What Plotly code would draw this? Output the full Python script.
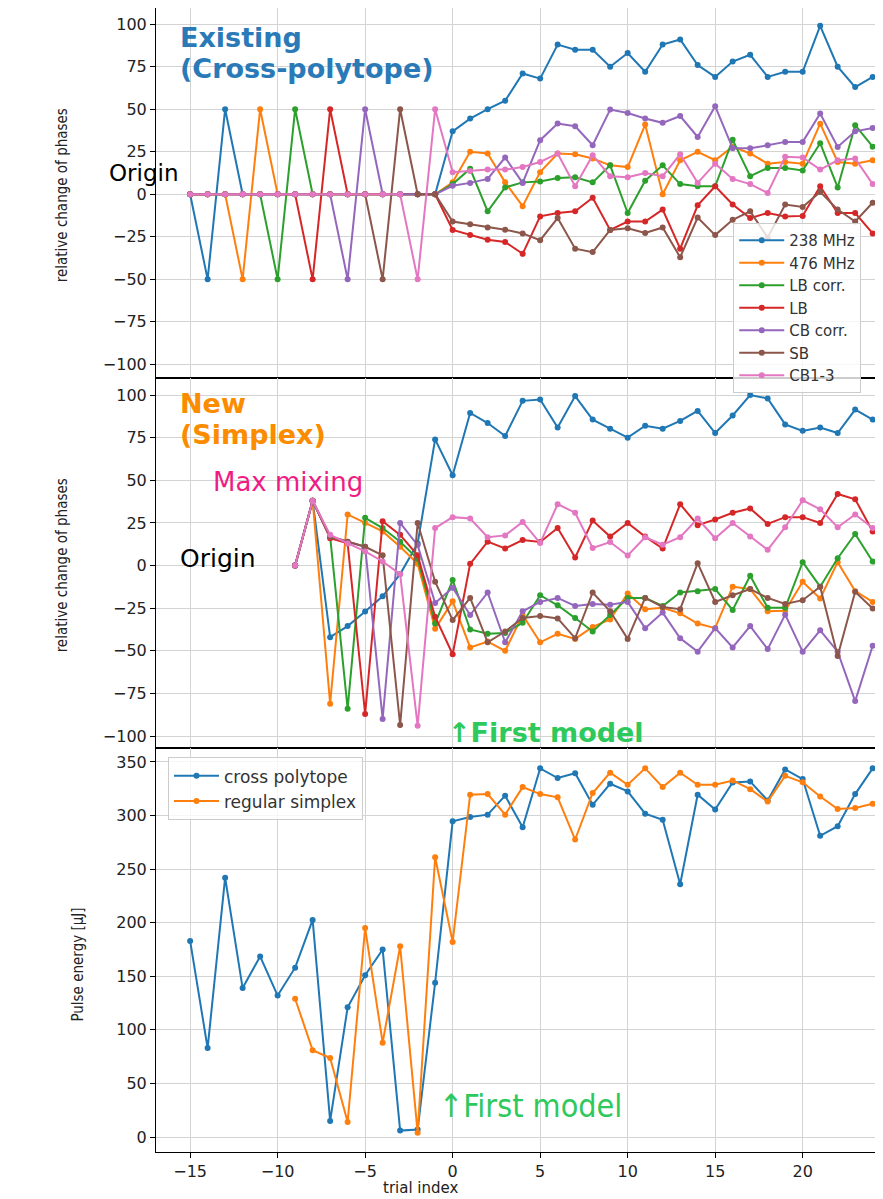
import plotly.graph_objects as go
from plotly.subplots import make_subplots

colors = ['#1f77b4', '#ff7f0e', '#2ca02c', '#d62728', '#9467bd', '#8c564b', '#e377c2']
names = ['238 MHz', '476 MHz', 'LB corr.', 'LB', 'CB corr.', 'SB', 'CB1-3']

# existing scheme (cross-polytope), trial index -15 .. 24
x_cross = list(range(-15, 25))
cross_238 = [0, -50, 50, 0, 0, 0, 0, 0, 0, 0, 0, 0, 0, 0, 0,
             37, 44.5, 50, 55, 71, 68, 88, 85, 85, 75, 83, 72, 88, 91, 76, 69, 78, 82, 69, 72, 72, 99, 75, 63, 69]
cross_476 = [0, 0, 0, -50, 50, 0, 0, 0, 0, 0, 0, 0, 0, 0, 0,
             7, 25, 24, 7, -7, 13, 24, 23.5, 21, 17, 16, 41, 0, 20, 25, 20, 28, 24, 18, 19, 18, 41.5, 19, 18, 20]
cross_lbc = [0, 0, 0, 0, 0, -50, 50, 0, 0, 0, 0, 0, 0, 0, 0,
             6, 15, -10, 4, 7, 7.5, 9.6, 10, 7, 17, -11, 8, 17, 6, 4.7, 4.7, 32, 10.6, 15.5, 15.5, 14, 30, 4, 40.6, 28]
cross_lb = [0, 0, 0, 0, 0, 0, 0, -50, 50, 0, 0, 0, 0, 0, 0,
            -21, -24, -26.7, -28, -35, -13, -11, -10, -2, -21, -16, -16, -9, -32, -6.5, 4.7, -6, -14, -11, -13, -12.7, 4.7, -11, -11, -23]
cross_cbc = [0, 0, 0, 0, 0, 0, 0, 0, 0, -50, 50, 0, 0, 0, 0,
             5, 6.7, 9, 21.6, 6.7, 31.8, 41.6, 40, 28.8, 49.8, 47.8, 44.5, 42, 46, 33.7, 51.8, 27, 27, 28.8, 30.8, 30.8, 47.5, 27.8, 37, 39]
cross_sb = [0, 0, 0, 0, 0, 0, 0, 0, 0, 0, 0, -50, 50, 0, 0,
            -16, -17.6, -19.6, -20.8, -23, -27, -14, -32, -34, -21, -20, -22.7, -19.5, -37, -13.7, -24, -15, -10, -25.5, -6, -7.5, 1.4, -9, -16, -5]
cross_cb13 = [0, 0, 0, 0, 0, 0, 0, 0, 0, 0, 0, 0, 0, -50, 50,
              13, 13.7, 14.5, 14.5, 16, 19, 24, 4.7, 23, 10.6, 10, 12.5, 10.6, 23.5, 6.7, 18, 9, 6, 0.8, 22, 21.6, 14.5, 20, 21, 6]

# new scheme (regular simplex), trial index -9 .. 24
x_simp = list(range(-9, 25))
simp_238 = [0, 38, -42, -35.5, -27, -18, -5, 13, 74,
            53, 89.5, 83.6, 76, 96.6, 97.4, 81, 99.4, 85.6, 80.3, 75, 82, 80.3, 84.8, 90.7, 77.7, 88, 100, 98, 82.8, 79, 81, 77.7, 91.5, 85.6]
simp_476 = [0, 38, -81, 30, 25, 20, 11, 1, -37,
            -21, -48, -44.6, -50, -29, -45, -40, -43, -36, -31.6, -16.4, -25.6, -24.8, -28, -34, -36.7, -12.4, -13.8, -26.8, -26.5, -9.5, -19.3, 2, -15, -21.3]
simp_lbc = [0, 38, 17, -84, 28, 22, 14, 4, -34,
            -8.5, -37.5, -40, -39.5, -33.5, -17.4, -23.3, -30.8, -38.7, -29, -19, -19, -23.7, -15.8, -15, -13.8, -26, -6, -24.8, -24.8, 2, -12.4, 4.3, 18.5, 2.4]
simp_lb = [0, 38, 16, 13, -87, 26, 18, 6, -30,
           -52, 1, 14, 10, 15, 13.8, 22, 4.7, 26.4, 17, 25, 17, 10, 36, 23.7, 27, 31, 33.5, 24.4, 28.4, 28.4, 25, 42, 38.9, 20]
simp_cbc = [0, 38, 17, 14, 11, -90, 25, 12, -22,
            -13, -29, -15.8, -45, -26.8, -21.3, -19, -23.7, -22.5, -23, -21.3, -36.7, -27.6, -42.6, -50.5, -36.7, -48, -35.5, -49, -28.8, -50.5, -38, -50.5, -79.5, -47]
simp_sb = [0, 38, 17, 14, 11, 6, -93.5, 25, -9.5,
           -32, -19, -45, -38.7, -30.8, -29.6, -31, -42.6, -15.8, -26.8, -43, -19, -24.3, -25.6, 1.4, -21.3, -17.4, -13.8, -19, -22.5, -20.3, -12.4, -53, -15.4, -25.2]
simp_cb13 = [0, 38, 18, 13, 8.3, 2.4, -5, -94, 22,
             28.4, 27.6, 16.6, 17.7, 25.6, 13.2, 36, 31, 10.3, 13.8, 5.9, 16.6, 12.2, 16.6, 27.6, 16, 25, 17, 9.2, 22.5, 38.3, 33, 22.5, 30, 22]

# pulse energy
energy_cross = [183, 83, 242, 139, 168.5, 132, 158, 202.6, 15, 121, 151, 175, 6, 7, 144,
                294.6, 298.6, 300.8, 318.5, 289, 344, 335, 339.5, 310, 329.6, 322.5, 301.7, 296, 235.8, 319.4,
                305.5, 330.9, 331.8, 314, 343, 334, 281, 290, 320, 344]
energy_simp = [129, 81, 73.7, 14, 195, 88, 178, 4, 261,
               182, 319.4, 320, 300.8, 326.5, 320, 317, 277.6, 321, 340, 328.7, 344, 326.5, 340, 328.7, 328.7,
               332.7, 324.6, 313, 337, 331, 317.8, 306, 307, 311]

cross_series = [cross_238, cross_476, cross_lbc, cross_lb, cross_cbc, cross_sb, cross_cb13]
simp_series = [simp_238, simp_476, simp_lbc, simp_lb, simp_cbc, simp_sb, simp_cb13]

fig = make_subplots(rows=3, cols=1, shared_xaxes=True, vertical_spacing=0,
                    row_heights=[370, 370, 404])

for name, c, ys in zip(names, colors, cross_series):
    fig.add_trace(go.Scatter(x=x_cross, y=ys, name=name, mode='lines+markers',
                             line=dict(color=c, width=2), marker=dict(size=6, color=c)), row=1, col=1)
for name, c, ys in zip(names, colors, simp_series):
    fig.add_trace(go.Scatter(x=x_simp, y=ys, name=name, mode='lines+markers', showlegend=False,
                             line=dict(color=c, width=2), marker=dict(size=6, color=c)), row=2, col=1)

fig.add_trace(go.Scatter(x=x_cross, y=energy_cross, name='cross polytope', mode='lines+markers',
                         line=dict(color=colors[0], width=2), marker=dict(size=6), legend='legend2'), row=3, col=1)
fig.add_trace(go.Scatter(x=x_simp, y=energy_simp, name='regular simplex', mode='lines+markers',
                         line=dict(color=colors[1], width=2), marker=dict(size=6), legend='legend2'), row=3, col=1)

axis_style = dict(showgrid=True, gridcolor='#d3d3d3', gridwidth=1, showline=True, linecolor='black',
                  linewidth=1, ticks='outside', ticklen=5, tickcolor='black', zeroline=False,
                  tickfont=dict(family='DejaVu Sans', size=16, color='#222'))
fig.update_xaxes(axis_style, range=[-16.95, 24.59], dtick=5, tick0=0, mirror=True)
fig.update_yaxes(axis_style)
fig.update_yaxes(range=[-108, 109.5], dtick=25, row=1, col=1)
fig.update_yaxes(range=[-107, 110], dtick=25, row=2, col=1)
fig.update_yaxes(range=[-14, 363], dtick=50, row=3, col=1)

ann = []
def note(text, x, y, yref, size, color, bold=False, family='DejaVu Sans', xref='x'):
    ann.append(dict(text=text, x=x, y=y, xref=xref, yref=yref, xanchor='left', yanchor='middle',
                    showarrow=False, font=dict(family=family, size=size, color=color,
                                               weight='bold' if bold else 'normal')))

note('Existing', -15.7, 92, 'y', 27, '#2a7ab8', True)
note('(Cross-polytope)', -15.7, 74, 'y', 27, '#2a7ab8', True)
note('Origin', -0.068, 12.5, 'y', 23, 'black', xref='paper')
note('New', -15.7, 95, 'y2', 27, '#fb8c00', True)
note('(Simplex)', -15.7, 77, 'y2', 27, '#fb8c00', True)
note('Max mixing', -13.8, 49, 'y2', 26, '#ee1c84')
note('Origin', -15.7, 4, 'y2', 25, 'black')
note('↑First model', -0.4, -98, 'y2', 27, '#2dc95c', True)
note('↑First model', -0.9, 29, 'y3', 32, '#2dc95c', False, 'DejaVu Sans Condensed, Liberation Sans Narrow, DejaVu Sans')

title_font = dict(family='DejaVu Sans Condensed, Liberation Sans Narrow, DejaVu Sans', size=15, color='#222')
for text, x, y in [('relative change of phases', -0.129, 0.8365),
                   ('relative change of phases', -0.129, 0.513),
                   ('Pulse energy [μJ]', -0.107, 0.164)]:
    ann.append(dict(text=text, x=x, y=y, xref='paper', yref='paper', textangle=-90,
                    xanchor='center', yanchor='middle', showarrow=False, font=title_font))
ann.append(dict(text='trial index', x=0.3645, y=-0.0315, xref='paper', yref='paper', showarrow=False,
                xanchor='center', yanchor='middle', font=dict(family='DejaVu Sans', size=15, color='#222')))

# page body adds an 8px offset, so the figure is 8px smaller than the window
fig.update_layout(
    width=875, height=1191,
    margin=dict(l=148, r=0, t=0, b=47),
    plot_bgcolor='white', paper_bgcolor='white',
    annotations=ann,
    legend=dict(x=0.794, y=0.812, xanchor='left', yanchor='top', itemwidth=45,
                bgcolor='rgba(255,255,255,0.8)', bordercolor='#cccccc', borderwidth=1,
                font=dict(family='DejaVu Sans', size=15, color='#333')),
    legend2=dict(x=0.0165, y=0.345, xanchor='left', yanchor='top', itemwidth=45,
                 bgcolor='rgba(255,255,255,0.8)', bordercolor='#cccccc', borderwidth=1,
                 font=dict(family='DejaVu Sans', size=17, color='#333')),
)

fig.write_html("out.html")
